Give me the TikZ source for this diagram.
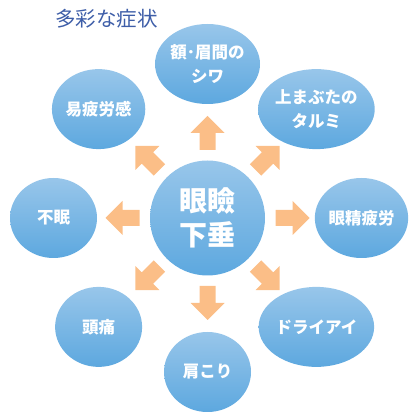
\documentclass[tikz,border=0pt]{standalone}
\usepackage{fontspec}
\usepackage{tikz}
\usetikzlibrary{shapes.geometric}
\usetikzlibrary{calc}
\newfontfamily\jpfont{Noto Sans CJK JP}
\definecolor{balltop}{RGB}{152,198,234}
\definecolor{ballbot}{RGB}{93,168,223}
\definecolor{arrowfill}{RGB}{251,190,135}
\definecolor{titleblue}{RGB}{62,94,168}
\tikzset{
  ball/.style={ellipse,inner sep=0pt,top color=balltop,bottom color=ballbot,
    text=white,align=center,font=\jpfont\bfseries\fontsize{16.5}{24}\selectfont},
  symptom/.style={ball,minimum width=87pt,minimum height=80pt},
  mainball/.style={ball,minimum width=115pt,minimum height=115pt,
    font=\jpfont\bfseries\fontsize{28}{34}\selectfont},
  blockarrow/.style={fill=arrowfill}
}

\begin{document}
\begin{tikzpicture}[x=1pt,y=1pt]
\useasboundingbox (0,0) rectangle (416,418);
\node[anchor=west,inner sep=0pt,text=titleblue,font=\jpfont\fontsize{20.5}{24}\selectfont] (title) at (55,399.5) {多彩な症状};
\node[mainball] (ctr) at (207.5,200) {眼瞼\\下垂};
\foreach \ang/\nm/\txt in {90/shiwa/{額･眉間の\\シワ}, 45/tarumi/{上まぶたの\\タルミ},
    0/seihiro/{眼精疲労}, -45/dry/{ドライアイ}, -90/katakori/{肩こり},
    -135/zutsu/{頭痛}, 180/fumin/{不眠}, 135/ihiro/{易疲労感}}
  \node[symptom] (\nm) at ($(ctr)+(\ang:154)$) {\txt};
\foreach \ang in {0,45,...,315}
  \fill[blockarrow,shift={(ctr)},rotate=\ang] (68,-8) -- (85,-8) -- (85,-17) -- (102,0)
    -- (85,17) -- (85,8) -- (68,8) -- cycle;
\end{tikzpicture}
\end{document}
